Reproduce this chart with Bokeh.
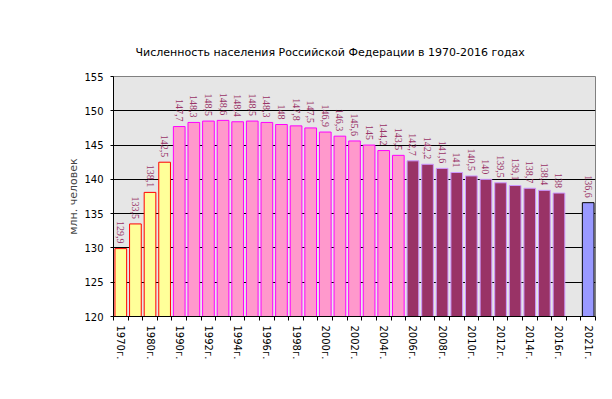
import math
from bokeh.plotting import figure
from bokeh.models import ColumnDataSource, FixedTicker, LabelSet, Range1d, Title
from bokeh.embed import file_html
from bokeh.resources import INLINE

title_text = "Численность населения Российской Федерации в 1970-2016 годах"
y_label = "млн. человек"

years = ["1970г.", "1975г.", "1980г.", "1985г.",
         "1990г.", "1991г.", "1992г.", "1993г.", "1994г.", "1995г.", "1996г.", "1997г.",
         "1998г.", "1999г.", "2000г.", "2001г.", "2002г.", "2003г.", "2004г.", "2005г.",
         "2006г.", "2007г.", "2008г.", "2009г.", "2010г.", "2011г.", "2012г.", "2013г.",
         "2014г.", "2015г.", "2016г.", "2017г.", "2021г."]
values = [129.9, 133.5, 138.1, 142.5,
          147.7, 148.3, 148.5, 148.6, 148.4, 148.5, 148.3, 148.0,
          147.8, 147.5, 146.9, 146.3, 145.6, 145.0, 144.2, 143.5,
          142.7, 142.2, 141.6, 141.0, 140.5, 140.0, 139.5, 139.1,
          138.7, 138.4, 138.0, None, 136.6]
groups = ["a"] * 4 + ["b"] * 16 + ["c"] * 11 + [None] + ["d"]
fill_colors = {"a": "#ffff99", "b": "#ff99cc", "c": "#993366", "d": "#9999ff"}
line_colors = {"a": "#ff0000", "b": "#ff00ff", "c": "#cc99ff", "d": "#000000"}
y_ticks = [120, 125, 130, 135, 140, 145, 150, 155]
grid_ticks = [125, 130, 135, 140, 145, 150]

n = len(years)
xs, tops, fills, lines, texts = [], [], [], [], []
for i, (v, g) in enumerate(zip(values, groups)):
    if v is None:
        continue
    xs.append(i)
    tops.append(v)
    fills.append(fill_colors[g])
    lines.append(line_colors[g])
    s = ("%.1f" % v).replace(".", ",")
    if s.endswith(",0"):
        s = s[:-2]
    texts.append(s)

src = ColumnDataSource(dict(x=xs, top=tops, fill=fills, line=lines, text=texts))

FONT = "DejaVu Sans"

p = figure(width=600, height=390, output_backend="svg", toolbar_location=None,
           x_range=Range1d(-0.5, n - 0.5), y_range=Range1d(y_ticks[0], y_ticks[-1]),
           min_border_left=113, min_border_right=5, min_border_top=76, min_border_bottom=74)
p.background_fill_color = "#e6e6e6"
p.border_fill_color = "white"
p.outline_line_color = "#808080"

p.title = Title(text=title_text, align="left", offset=22, text_font=FONT,
                text_font_size="11px", text_font_style="normal", text_color="black",
                standoff=36)

p.vbar(x="x", top="top", bottom=y_ticks[0], width=0.8, fill_color="fill",
       line_color="line", line_width=1, source=src)

labels = LabelSet(x="x", y="top", text="text", source=src, angle=-math.pi / 2,
                  text_align="right", text_baseline="middle", y_offset=5,
                  text_font=FONT, text_font_size="10px", text_color="#993366")
p.add_layout(labels)

xa = p.xaxis[0]
xa.ticker = FixedTicker(ticks=list(range(0, n, 2)),
                        minor_ticks=[i - 0.5 for i in range(n + 1)])
xa.major_label_overrides = {i: years[i] for i in range(0, n, 2)}
xa.major_label_orientation = -math.pi / 2
xa.major_tick_out = 0
xa.major_tick_in = 0
xa.minor_tick_out = 4
xa.minor_tick_in = 0
xa.minor_tick_line_color = "black"
xa.axis_line_color = "black"
xa.major_label_standoff = 5
xa.major_label_text_font = FONT
xa.major_label_text_font_size = "10px"
xa.major_label_text_color = "black"

ya = p.yaxis[0]
ya.ticker = FixedTicker(ticks=y_ticks)
ya.major_tick_out = 3
ya.major_tick_in = 0
ya.minor_tick_out = 0
ya.minor_tick_in = 0
ya.axis_line_color = "black"
ya.major_label_standoff = 7
ya.major_label_text_font = FONT
ya.major_label_text_font_size = "10px"
ya.major_label_text_color = "black"
ya.axis_label = y_label
ya.axis_label_text_font = FONT
ya.axis_label_text_font_size = "11px"
ya.axis_label_text_font_style = "normal"
ya.axis_label_standoff = 1

p.xgrid.visible = False
p.ygrid.ticker = FixedTicker(ticks=grid_ticks)
p.ygrid.grid_line_color = "black"
p.ygrid.grid_line_width = 1

open("out.html", "w").write(file_html(p, INLINE))
